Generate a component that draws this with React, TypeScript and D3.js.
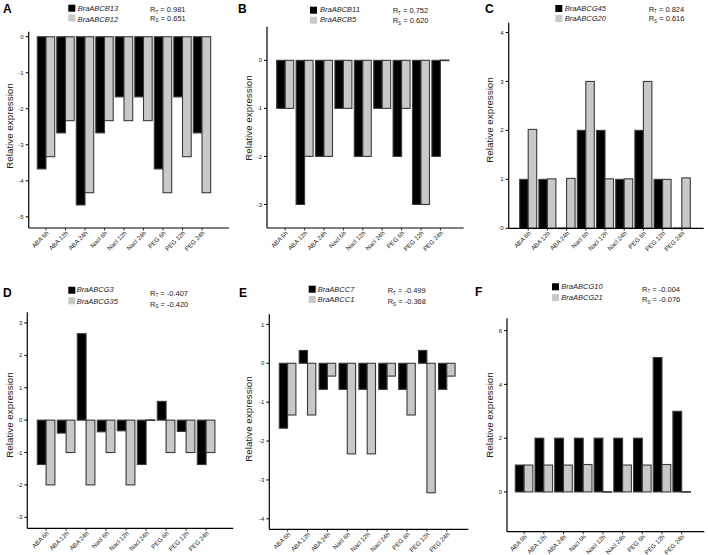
import React from "react";
import * as d3 from "d3";

const categories = ["ABA 6h", "ABA 12h", "ABA 24h", "Nacl 6h", "Nacl 12h", "Nacl 24h", "PEG 6h", "PEG 12h", "PEG 24h"];

const panelLetters = ["A", "B", "C", "D", "E", "F"];
const geneBlack = ["BraABCB13", "BraABCB11", "BraABCG45", "BraABCG3", "BraABCC7", "BraABCG10"];
const geneGray = ["BraABCB12", "BraABCB5", "BraABCG20", "BraABCG35", "BraABCC1", "BraABCG21"];
const rT = ["0.981", "0.752", "0.824", "-0.407", "-0.499", "-0.004"];
const rS = ["0.651", "0.620", "0.616", "-0.420", "-0.368", "-0.076"];

const blackA = [-3.67, -2.67, -4.67, -2.67, -1.67, -1.67, -3.67, -1.67, -2.67];
const grayA = [-3.33, -2.33, -4.33, -2.33, -2.33, -2.33, -4.33, -3.33, -4.33];
const blackB = [-1, -3, -2, -1, -2, -1, -2, -3, -2];
const grayB = [-1, -2, -2, -1, -2, -1, -1, -3, 0];
const blackC = [1, 1, 0, 2, 2, 1, 2, 1, 0];
const grayC = [2.02, 1.01, 1.02, 3, 1.01, 1.01, 3, 1, 1.03];
const blackD = [-1.37, -0.4, 2.67, -0.36, -0.33, -1.37, 0.58, -0.35, -1.37];
const grayD = [-2, -1, -2, -1, -2, 0, -1, -1, -1];
const blackE = [-1.67, 0.33, -0.67, -0.67, -0.67, -0.67, -0.67, 0.33, -0.67];
const grayE = [-1.33, -1.33, -0.33, -2.33, -2.33, -0.33, -1.33, -3.33, -0.33];
const blackF = [1, 2, 2, 2, 2, 2, 2, 5, 3];
const grayF = [1, 1, 1, 1.02, 0, 1, 1, 1.02, 0];

const ticksA = [0, -1, -2, -3, -4, -5];
const ticksB = [0, -1, -2, -3];
const ticksC = [0, 1, 2, 3, 4];
const ticksD = [3, 2, 1, 0, -1, -2, -3];
const ticksE = [1, 0, -1, -2, -3, -4];
const ticksF = [0, 2, 4, 6];

const blackSeries = [blackA, blackB, blackC, blackD, blackE, blackF];
const graySeries = [grayA, grayB, grayC, grayD, grayE, grayF];
const tickSets = [ticksA, ticksB, ticksC, ticksD, ticksE, ticksF];
const domains: [number, number][] = [
  [-5.31, 0.14],
  [-3.49, 0.7],
  [0, 4.2],
  [-3.34, 3.33],
  [-4.27, 1.26],
  [-1.48, 6.46],
];

// layout (pixel positions)
const layouts = [
  { ax: 28.7, xEnd: 229, yTop: 31.7, yBot: 228, bs: 37.3, pitch: 19.5, bw: 8.7,
    lx: 3, ly: 13, sqx: 68.3, sqy: [4.7, 14.5], tx: 77.7, ty: [11.3, 21.5], rx: 150, ry: [12, 20.7], ylx: 10, yly: 126 },
  { ax: 267, xEnd: 463.7, yTop: 26.7, yBot: 228, bs: 276.7, pitch: 19.4, bw: 8.5,
    lx: 238, ly: 13.3, sqx: 310, sqy: [6.7, 16.7], tx: 320, ty: [12.3, 22.3], rx: 392.7, ry: [13.3, 23.3], ylx: 248.5, yly: 118 },
  { ax: 508.7, xEnd: 703.7, yTop: 22.7, yBot: 228.3, bs: 519.7, pitch: 19.2, bw: 8.5,
    lx: 485, ly: 13.3, sqx: 555.3, sqy: [5, 15], tx: 564.7, ty: [10.5, 20.7], rx: 648.7, ry: [11.7, 21], ylx: 490, yly: 120 },
  { ax: 27.3, xEnd: 233.3, yTop: 312.3, yBot: 528.3, bs: 37.3, pitch: 20.0, bw: 8.8,
    lx: 3, ly: 296.7, sqx: 68.3, sqy: [286.7, 297.3], tx: 76.7, ty: [292.3, 304.3], rx: 150, ry: [295.7, 306.7], ylx: 10, yly: 415 },
  { ax: 269.3, xEnd: 468.3, yTop: 314.3, yBot: 529.3, bs: 279.3, pitch: 19.9, bw: 8.3,
    lx: 239, ly: 297, sqx: 308.7, sqy: [285.7, 296], tx: 317.7, ty: [291.7, 302.3], rx: 387.7, ry: [293.3, 304.3], ylx: 248.5, yly: 419 },
  { ax: 507, xEnd: 704.3, yTop: 318.3, yBot: 531.7, bs: 515.3, pitch: 19.7, bw: 8.8,
    lx: 475, ly: 295.7, sqx: 552, sqy: [283.3, 294], tx: 561.3, ty: [289.3, 300], rx: 642, ry: [291.7, 302.3], ylx: 489.5, yly: 415 },
];

const FONT = "'Liberation Sans', Arial, Helvetica, sans-serif";
const GRAY = "#c6c9c6";
const STROKE = "#3a3a3a";

function Panel({ i }: { i: number }) {
  const L = layouts[i];
  const y = d3.scaleLinear().domain(domains[i]).range([L.yBot, L.yTop]);
  const x = d3
    .scaleBand<string>()
    .domain(categories)
    .range([L.bs, L.bs + 8 * L.pitch + 2 * L.bw])
    .paddingInner(1 - (2 * L.bw) / L.pitch)
    .paddingOuter(0);
  const bw = x.bandwidth() / 2;
  const y0 = y(0);
  const bar = (v: number, xx: number, fill: string, key: string) => {
    const top = Math.min(y(v), y0);
    const h = Math.max(Math.abs(y(v) - y0), 0.6);
    return (
      <rect key={key} x={xx} y={v === 0 ? y0 - 0.3 : top} width={bw} height={h}
        fill={fill} stroke={STROKE} strokeWidth={1.1} />
    );
  };
  return (
    <g fontFamily={FONT}>
      <text x={L.lx} y={L.ly} fontSize={12} fontWeight="bold" fill="#000">{panelLetters[i]}</text>
      {/* legend */}
      <rect x={L.sqx} y={L.sqy[0]} width={7} height={7} fill="#000" />
      <rect x={L.sqx} y={L.sqy[1]} width={7} height={7} fill={GRAY} />
      <text x={L.tx} y={L.ty[0]} fontSize={7.5} fontStyle="italic" fill="#222">{geneBlack[i]}</text>
      <text x={L.tx} y={L.ty[1]} fontSize={7.5} fontStyle="italic" fill="#222">{geneGray[i]}</text>
      <text x={L.rx} y={L.ry[0]} fontSize={7.5} fill="#222">
        R<tspan fontSize={4.5} dy={1.5}>T</tspan><tspan dy={-1.5}>{i === 5 ? "  = " : " = "}{rT[i]}</tspan>
      </text>
      <text x={L.rx} y={L.ry[1]} fontSize={7.5} fill="#222">
        R<tspan fontSize={4.5} dy={1.5}>S</tspan><tspan dy={-1.5}>{" = "}{rS[i]}</tspan>
      </text>
      {/* y label */}
      <text transform={`translate(${L.ylx},${L.yly}) rotate(-90)`} textAnchor="middle" dy="0.35em"
        fontSize={9.8} fill="#222">Relative expression</text>
      {/* bars */}
      {categories.map((c, k) => (
        <g key={c}>
          {bar(blackSeries[i][k], x(c)!, "#000", "b")}
          {bar(graySeries[i][k], x(c)! + bw, GRAY, "g")}
        </g>
      ))}
      {/* axes */}
      <line x1={L.ax} x2={L.ax} y1={L.yTop} y2={L.yBot} stroke="#000" strokeWidth={1.2} />
      <line x1={L.ax} x2={L.xEnd} y1={L.yBot} y2={L.yBot} stroke="#000" strokeWidth={1.2} />
      {tickSets[i].map((t) => (
        <g key={t}>
          <line x1={L.ax - 3} x2={L.ax} y1={y(t)} y2={y(t)} stroke="#000" strokeWidth={1} />
          <text x={L.ax - 5} y={y(t)} dy="0.35em" textAnchor="end" fontSize={6} fill="#222">{t}</text>
        </g>
      ))}
      {categories.map((c) => {
        const cx = x(c)! + bw;
        return (
          <g key={"xl" + c}>
            <line x1={cx} x2={cx} y1={L.yBot} y2={L.yBot + 2.5} stroke="#000" strokeWidth={0.8} />
            <text transform={`translate(${cx + 1.5},${L.yBot + 4}) rotate(-45)`} textAnchor="end"
              dy="0.35em" fontSize={6.2} fill="#222">{c}</text>
          </g>
        );
      })}
    </g>
  );
}

export default function App() {
  return (
    <svg width={708} height={555} style={{ position: "absolute", left: 0, top: 0, background: "#fff" }}>
      <rect width={708} height={555} fill="#fff" />
      {layouts.map((_, i) => (
        <Panel key={i} i={i} />
      ))}
    </svg>
  );
}
